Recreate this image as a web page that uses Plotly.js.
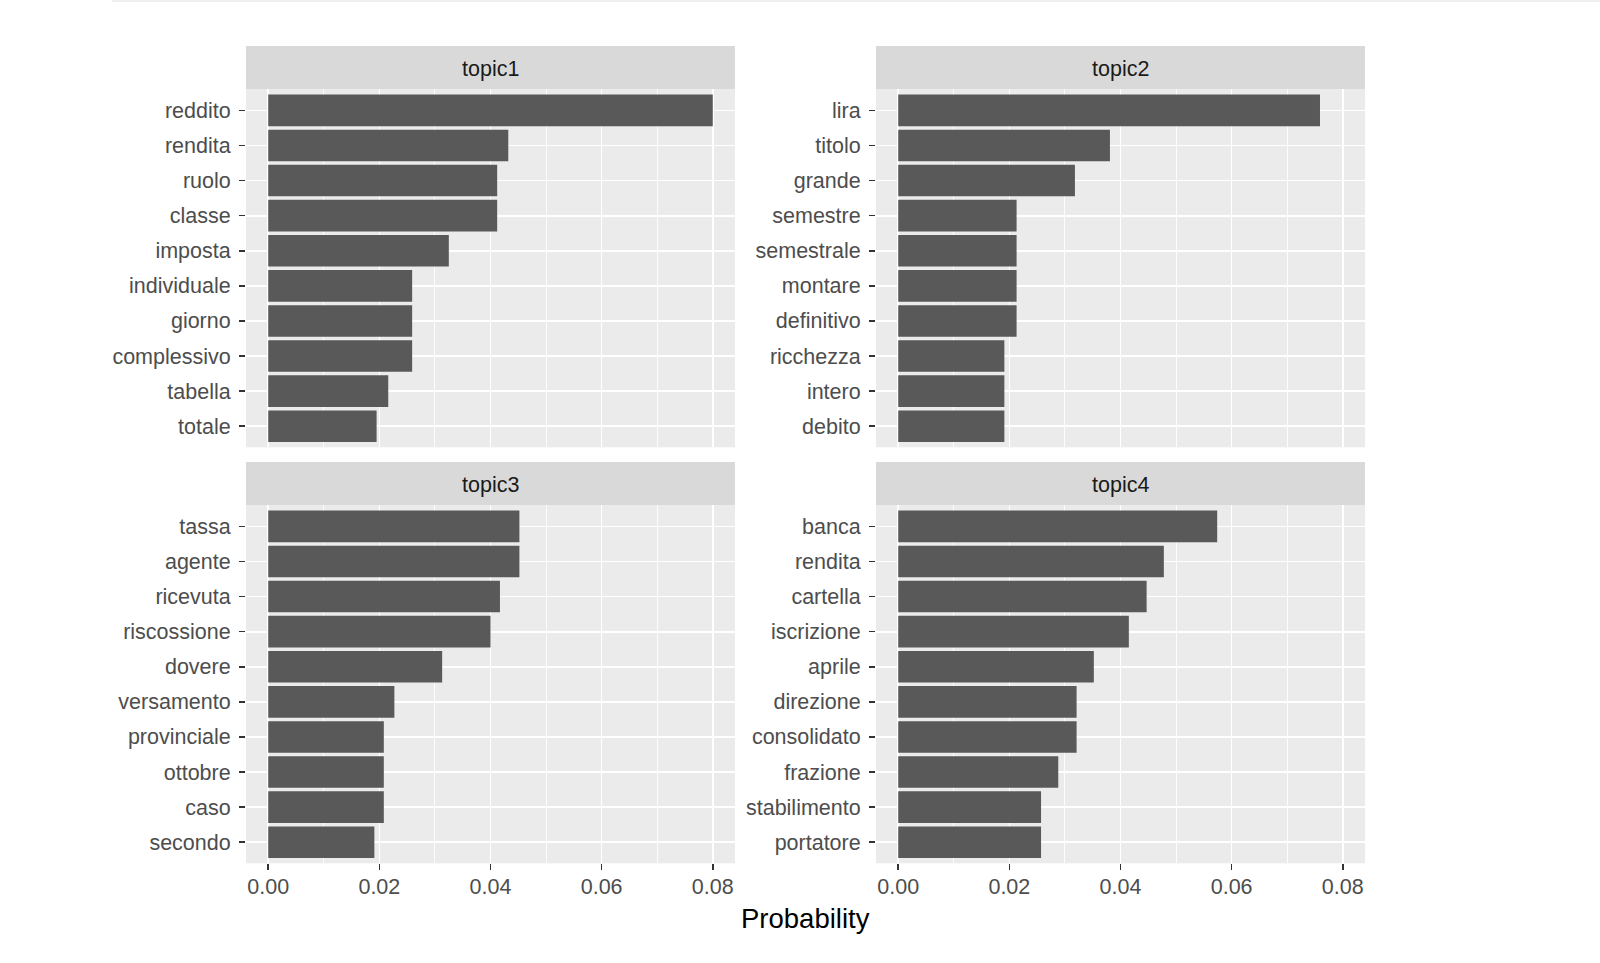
<!DOCTYPE html>
<html>
<head>
<meta charset="utf-8">
<script src="https://cdn.plot.ly/plotly-3.0.1.min.js"></script>
<style>
  html, body { margin: 0; padding: 0; background: #ffffff; }
  #chart { width: 1600px; height: 963px; }
</style>
</head>
<body>
<div id="chart"></div>
<script>
// ---- data ----
const topicNames = ['topic1', 'topic2', 'topic3', 'topic4'];

const topic1Terms = ['reddito','rendita','ruolo','classe','imposta','individuale','giorno','complessivo','tabella','totale'];
const topic1Beta  = [0.0800, 0.0432, 0.0412, 0.0412, 0.0325, 0.0259, 0.0259, 0.0259, 0.0216, 0.0195];

const topic2Terms = ['lira','titolo','grande','semestre','semestrale','montare','definitivo','ricchezza','intero','debito'];
const topic2Beta  = [0.0759, 0.0381, 0.0318, 0.0213, 0.0213, 0.0213, 0.0213, 0.0191, 0.0191, 0.0191];

const topic3Terms = ['tassa','agente','ricevuta','riscossione','dovere','versamento','provinciale','ottobre','caso','secondo'];
const topic3Beta  = [0.0452, 0.0452, 0.0417, 0.0400, 0.0313, 0.0227, 0.0208, 0.0208, 0.0208, 0.0191];

const topic4Terms = ['banca','rendita','cartella','iscrizione','aprile','direzione','consolidato','frazione','stabilimento','portatore'];
const topic4Beta  = [0.0574, 0.0478, 0.0447, 0.0415, 0.0352, 0.0321, 0.0321, 0.0288, 0.0257, 0.0257];

const xTickVals = [0, 0.02, 0.04, 0.06, 0.08];
const xTickText = ['0.00', '0.02', '0.04', '0.06', '0.08'];
const xAxisTitle = 'Probability';

// ---- layout constants ----
const W = 1600, H = 963;
const FONT = 'Liberation Sans, Arial, Helvetica, sans-serif';
const colDom = [[246 / W, 735 / W], [876 / W, 1365 / W]];
const rowPlot = [[89.3, 447.3], [505.3, 863.3]];   // px, top..bottom
const rowStrip = [[46, 89.3], [462, 505.3]];
const py = v => 1 - v / H;

const termsList = [topic1Terms, topic2Terms, topic3Terms, topic4Terms];
const betaList = [topic1Beta, topic2Beta, topic3Beta, topic4Beta];

const traces = [];
const layout = {
  width: W, height: H,
  margin: {l: 0, r: 0, t: 0, b: 0},
  paper_bgcolor: '#ffffff',
  plot_bgcolor: '#EBEBEB',
  showlegend: false,
  bargap: 0.1,
  font: {family: FONT, size: 21.5, color: '#4D4D4D'},
  shapes: [],
  annotations: []
};

for (let i = 0; i < 4; i++) {
  const r = Math.floor(i / 2), c = i % 2;
  const sfx = i === 0 ? '' : String(i + 1);
  traces.push({
    type: 'bar',
    orientation: 'h',
    x: betaList[i],
    y: termsList[i],
    xaxis: 'x' + sfx,
    yaxis: 'y' + sfx,
    marker: {color: '#595959', line: {width: 0}},
    hoverinfo: 'x+y'
  });
  const bottom = r === 1;
  layout['xaxis' + sfx] = {
    domain: colDom[c],
    anchor: 'y' + sfx,
    range: [-0.004, 0.084],
    autorange: false,
    tickmode: 'array',
    tickvals: xTickVals,
    ticktext: xTickText,
    showticklabels: bottom,
    ticks: bottom ? 'outside' : '',
    ticklen: 6,
    tickwidth: 1.5,
    tickcolor: '#333333',
    ticklabelstandoff: -2,
    tickfont: {family: FONT, size: 21.5, color: '#4D4D4D'},
    showgrid: true,
    gridcolor: '#ffffff',
    gridwidth: 1.7,
    minor: {tickmode: 'linear', tick0: 0.01, dtick: 0.02, showgrid: true, gridcolor: '#ffffff', gridwidth: 0.85, ticks: ''},
    zeroline: false,
    showline: false,
    fixedrange: true
  };
  layout['yaxis' + sfx] = {
    domain: [py(rowPlot[r][1]), py(rowPlot[r][0])],
    anchor: 'x' + sfx,
    type: 'category',
    categoryorder: 'array',
    categoryarray: termsList[i],
    range: [9.6, -0.6],
    autorange: false,
    ticks: 'outside',
    ticklen: 6,
    tickwidth: 1.5,
    tickcolor: '#333333',
    ticklabelstandoff: 4,
    tickfont: {family: FONT, size: 21.5, color: '#4D4D4D'},
    showgrid: true,
    gridcolor: '#ffffff',
    gridwidth: 1.7,
    zeroline: false,
    showline: false,
    fixedrange: true
  };
  // facet strip
  layout.shapes.push({
    type: 'rect', xref: 'paper', yref: 'paper', layer: 'below',
    x0: colDom[c][0], x1: colDom[c][1],
    y0: py(rowStrip[r][1]), y1: py(rowStrip[r][0]),
    fillcolor: '#D9D9D9', line: {width: 0}
  });
  layout.annotations.push({
    xref: 'paper', yref: 'paper',
    x: (colDom[c][0] + colDom[c][1]) / 2,
    y: py((rowStrip[r][0] + rowStrip[r][1]) / 2 + 1.5),
    xanchor: 'center', yanchor: 'middle',
    text: topicNames[i], showarrow: false,
    font: {family: FONT, size: 21.5, color: '#1A1A1A'}
  });
}

// shared x axis title
layout.annotations.push({
  xref: 'paper', yref: 'paper',
  x: (colDom[0][0] + colDom[1][1]) / 2,
  y: py(918),
  xanchor: 'center', yanchor: 'middle',
  text: xAxisTitle, showarrow: false,
  font: {family: FONT, size: 27.5, color: '#000000'}
});

// faint frame line at the very top of the picture
layout.shapes.push({
  type: 'line', xref: 'paper', yref: 'paper', layer: 'above',
  x0: 112 / W, x1: 1, y0: py(1), y1: py(1),
  line: {color: '#EFEFEF', width: 2}
});

Plotly.newPlot('chart', traces, layout, {displayModeBar: false, staticPlot: true});
</script>
</body>
</html>
